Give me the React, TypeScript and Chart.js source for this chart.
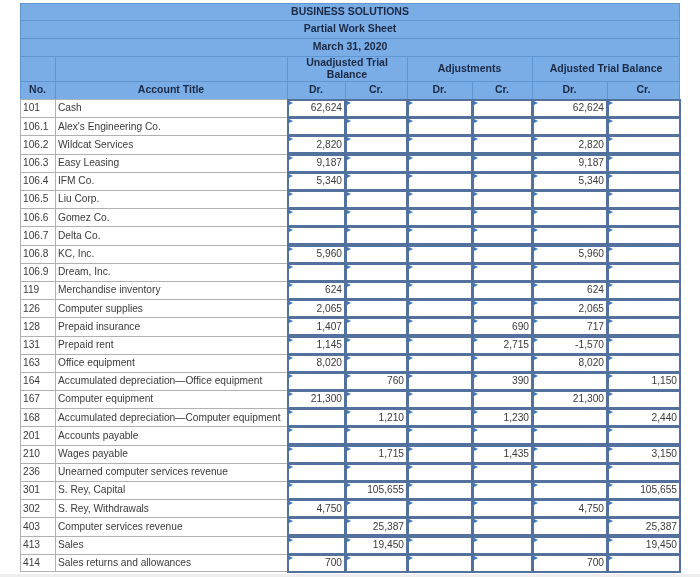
import React, { useEffect, useRef } from "react";
import { Chart, registerables } from "chart.js";

Chart.register(...registerables);

// ---------- data ----------
const titleLines = ["BUSINESS SOLUTIONS", "Partial Work Sheet", "March 31, 2020"];
const groupHeaders = ["Unadjusted Trial\nBalance", "Adjustments", "Adjusted Trial Balance"];
const columnHeaders = ["No.", "Account Title", "Dr.", "Cr.", "Dr.", "Cr.", "Dr.", "Cr."];

const accountNos = [
  "101", "106.1", "106.2", "106.3", "106.4", "106.5", "106.6", "106.7", "106.8", "106.9",
  "119", "126", "128", "131", "163", "164", "167", "168", "201", "210", "236", "301", "302",
  "403", "413", "414",
];

const accountTitles = [
  "Cash",
  "Alex's Engineering Co.",
  "Wildcat Services",
  "Easy Leasing",
  "IFM Co.",
  "Liu Corp.",
  "Gomez Co.",
  "Delta Co.",
  "KC, Inc.",
  "Dream, Inc.",
  "Merchandise inventory",
  "Computer supplies",
  "Prepaid insurance",
  "Prepaid rent",
  "Office equipment",
  "Accumulated depreciation\u2014Office equipment",
  "Computer equipment",
  "Accumulated depreciation\u2014Computer equipment",
  "Accounts payable",
  "Wages payable",
  "Unearned computer services revenue",
  "S. Rey, Capital",
  "S. Rey, Withdrawals",
  "Computer services revenue",
  "Sales",
  "Sales returns and allowances",
];

const unadjustedDr = [
  62624, null, 2820, 9187, 5340, null, null, null, 5960, null,
  624, 2065, 1407, 1145, 8020, null, 21300, null, null, null, null, null, 4750,
  null, null, 700,
];
const unadjustedCr = [
  null, null, null, null, null, null, null, null, null, null,
  null, null, null, null, null, 760, null, 1210, null, 1715, null, 105655, null,
  25387, 19450, null,
];
const adjustmentsDr = [
  null, null, null, null, null, null, null, null, null, null,
  null, null, null, null, null, null, null, null, null, null, null, null, null,
  null, null, null,
];
const adjustmentsCr = [
  null, null, null, null, null, null, null, null, null, null,
  null, null, 690, 2715, null, 390, null, 1230, null, 1435, null, null, null,
  null, null, null,
];
const adjustedDr = [
  62624, null, 2820, 9187, 5340, null, null, null, 5960, null,
  624, 2065, 717, -1570, 8020, null, 21300, null, null, null, null, null, 4750,
  null, null, 700,
];
const adjustedCr = [
  null, null, null, null, null, null, null, null, null, null,
  null, null, null, null, null, 1150, null, 2440, null, 3150, null, 105655, null,
  25387, 19450, null,
];

const amountColumns = [unadjustedDr, unadjustedCr, adjustmentsDr, adjustmentsCr, adjustedDr, adjustedCr];

// ---------- layout (table units along the x scale, px for header rows) ----------
const COL_EDGES = [20, 55, 287, 345, 407, 472, 532, 607, 680];
const HEADER_Y = [3, 20, 38, 56, 81, 99];

const HEADER_BG = "#7aace6";
const HEADER_LINE = "#6095d0";
const HEADER_TEXT = "#1b2a44";
const GRID_GRAY = "#b0b0b0";
const INPUT_BORDER = "#52719c";
const FLAG = "#3b78c6";
const TEXT = "#3a3a3a";
const FONT = "'Liberation Sans', Arial, sans-serif";

const fmt = (v: number) => v.toLocaleString("en-US");

const worksheetPlugin = {
  id: "worksheet",
  afterDraw(chart: any) {
    const { ctx, chartArea } = chart;
    const xs = chart.scales.x;
    const ys = chart.scales.y;
    const X = (v: number) => xs.getPixelForValue(v);
    const n = accountNos.length;
    const rowH = (chartArea.bottom - chartArea.top) / n;
    const rowTop = (i: number) => ys.getPixelForValue(i) - rowH / 2;
    const rowMid = (i: number) => ys.getPixelForValue(i);

    ctx.save();

    // ---- header block ----
    const hx0 = X(COL_EDGES[0]);
    const hx1 = X(COL_EDGES[COL_EDGES.length - 1]);
    ctx.fillStyle = HEADER_BG;
    ctx.fillRect(hx0, HEADER_Y[0], hx1 - hx0, HEADER_Y[5] - HEADER_Y[0]);

    ctx.strokeStyle = HEADER_LINE;
    ctx.lineWidth = 1;
    const hline = (y: number, a: number, b: number) => {
      ctx.beginPath();
      ctx.moveTo(a, Math.round(y) + 0.5);
      ctx.lineTo(b, Math.round(y) + 0.5);
      ctx.stroke();
    };
    const vline = (x: number, a: number, b: number) => {
      ctx.beginPath();
      ctx.moveTo(Math.round(x) + 0.5, a);
      ctx.lineTo(Math.round(x) + 0.5, b);
      ctx.stroke();
    };
    for (let k = 0; k < 5; k++) hline(HEADER_Y[k], hx0, hx1);
    vline(hx0, HEADER_Y[0], HEADER_Y[5]);
    vline(hx1 - 1, HEADER_Y[0], HEADER_Y[5]);
    // group boundaries
    [COL_EDGES[1], COL_EDGES[2], COL_EDGES[4], COL_EDGES[6]].forEach((e) => vline(X(e), HEADER_Y[3], HEADER_Y[5]));
    // Dr/Cr split
    [COL_EDGES[3], COL_EDGES[5], COL_EDGES[7]].forEach((e) => vline(X(e), HEADER_Y[4], HEADER_Y[5]));

    ctx.fillStyle = HEADER_TEXT;
    ctx.font = `bold 10.5px ${FONT}`;
    ctx.textAlign = "center";
    ctx.textBaseline = "middle";
    titleLines.forEach((t, k) => {
      ctx.fillText(t, (hx0 + hx1) / 2, (HEADER_Y[k] + HEADER_Y[k + 1]) / 2 + 0.5);
    });
    const groupSpans = [
      [COL_EDGES[2], COL_EDGES[4]],
      [COL_EDGES[4], COL_EDGES[6]],
      [COL_EDGES[6], COL_EDGES[8]],
    ];
    groupHeaders.forEach((g, k) => {
      const cx = (X(groupSpans[k][0]) + X(groupSpans[k][1])) / 2;
      const cy = (HEADER_Y[3] + HEADER_Y[4]) / 2;
      const lines = g.split("\n");
      lines.forEach((ln, j) => {
        ctx.fillText(ln, cx, cy + (j - (lines.length - 1) / 2) * 11.5 + 0.5);
      });
    });
    columnHeaders.forEach((h, k) => {
      const cx = (X(COL_EDGES[k]) + X(COL_EDGES[k + 1])) / 2;
      ctx.fillText(h, cx, (HEADER_Y[4] + HEADER_Y[5]) / 2 + 0.5);
    });

    // ---- data rows ----
    const top = rowTop(0);
    const bottom = rowTop(n - 1) + rowH;
    ctx.fillStyle = "#ffffff";
    ctx.fillRect(X(COL_EDGES[0]), top, X(COL_EDGES[8]) - X(COL_EDGES[0]), bottom - top);

    // left gray grid
    ctx.strokeStyle = GRID_GRAY;
    ctx.lineWidth = 1;
    for (let i = 0; i <= n; i++) {
      const y = i < n ? rowTop(i) : bottom - 1;
      hline(y, X(COL_EDGES[0]), X(COL_EDGES[2]));
    }
    vline(X(COL_EDGES[0]), top, bottom);
    vline(X(COL_EDGES[1]), top, bottom);

    // text of left columns
    ctx.fillStyle = TEXT;
    ctx.font = `10.2px ${FONT}`;
    ctx.textAlign = "left";
    for (let i = 0; i < n; i++) {
      const cy = rowMid(i) + 0.5;
      ctx.fillText(accountNos[i], X(COL_EDGES[0]) + 3, cy);
      ctx.fillText(accountTitles[i], X(COL_EDGES[1]) + 3, cy);
    }

    // amount input cells
    for (let c = 0; c < amountColumns.length; c++) {
      const x0 = X(COL_EDGES[c + 2]);
      const x1 = X(COL_EDGES[c + 3]);
      for (let i = 0; i < n; i++) {
        const y0 = rowTop(i);
        ctx.strokeStyle = INPUT_BORDER;
        ctx.lineWidth = 2;
        ctx.strokeRect(Math.round(x0) + 1, Math.round(y0) + 1, Math.round(x1 - x0) - 1, Math.round(rowH) - 1);
        // small flag marker
        ctx.fillStyle = FLAG;
        ctx.beginPath();
        ctx.moveTo(Math.round(x0) + 2, Math.round(y0) + 2);
        ctx.lineTo(Math.round(x0) + 6, Math.round(y0) + 4);
        ctx.lineTo(Math.round(x0) + 2, Math.round(y0) + 6);
        ctx.closePath();
        ctx.fill();
        const v = amountColumns[c][i];
        if (v !== null && v !== undefined) {
          ctx.fillStyle = TEXT;
          ctx.textAlign = "right";
          ctx.fillText(fmt(v as number), x1 - 3, rowMid(i) + 0.5);
        }
      }
    }

    // faint strip at the bottom of the picture
    ctx.fillStyle = "#eeeeee";
    ctx.fillRect(0, chart.height - 3, chart.width, 3);

    ctx.restore();
  },
};

export default function App() {
  const ref = useRef<HTMLCanvasElement | null>(null);

  useEffect(() => {
    if (!ref.current) return;
    const chart = new Chart(ref.current, {
      type: "scatter",
      data: {
        labels: accountNos,
        datasets: [{ data: [], showLine: false, pointRadius: 0 }],
      },
      options: {
        animation: false,
        responsive: false,
        events: [],
        layout: { padding: { left: 20, right: 20, top: 99, bottom: 5 } },
        plugins: { legend: { display: false }, tooltip: { enabled: false } },
        scales: {
          x: { type: "linear", min: COL_EDGES[0], max: COL_EDGES[COL_EDGES.length - 1], display: false },
          y: { type: "category", labels: accountNos, offset: true, display: false },
        },
      },
      plugins: [worksheetPlugin],
    });
    return () => chart.destroy();
  }, []);

  return (
    <div style={{ position: "absolute", left: 0, top: 0, width: 700, height: 577, background: "#ffffff" }}>
      <canvas ref={ref} width={700} height={577} style={{ display: "block" }} />
    </div>
  );
}
